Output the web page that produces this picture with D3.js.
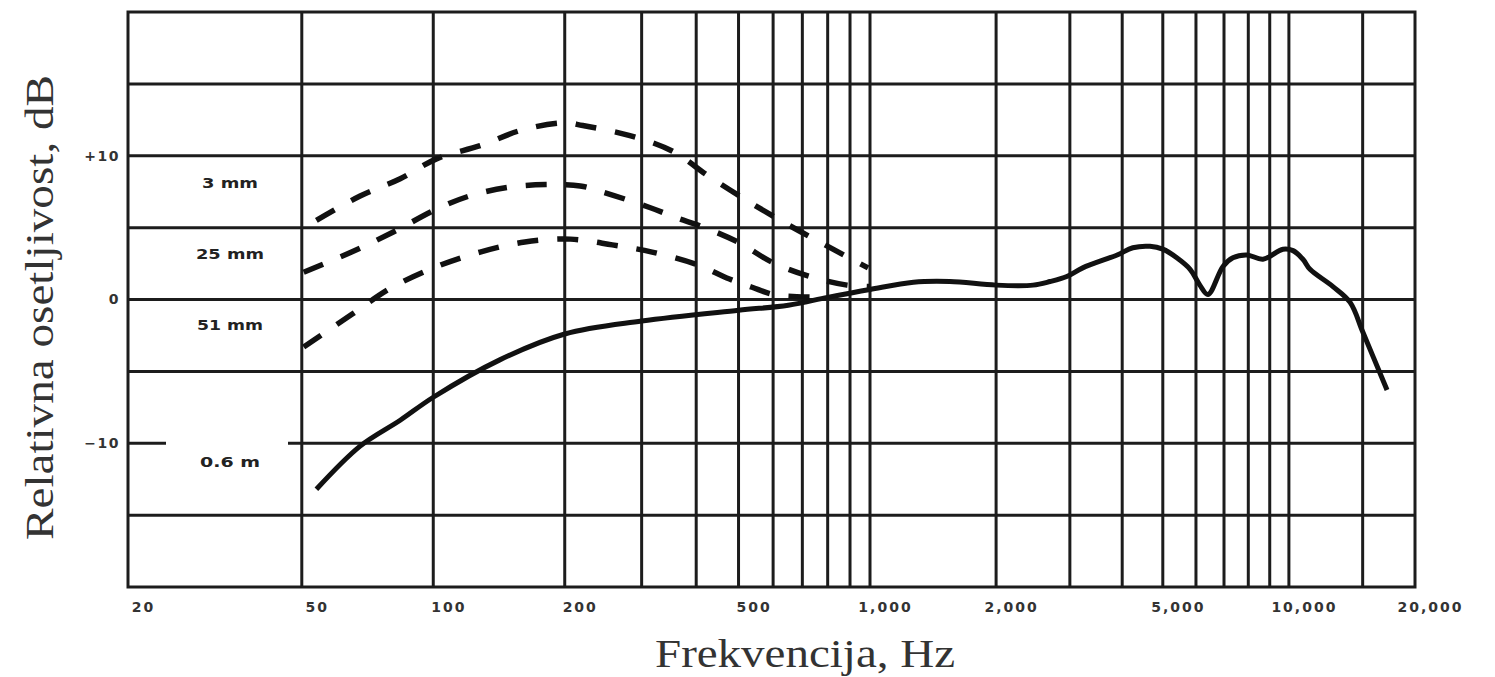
<!DOCTYPE html>
<html>
<head>
    <meta charset="utf-8">
    <title></title>
    <style>
        body {
            margin: 0;
            background: #fff;
        }
        .grid line, .frame {
            fill: none;
            stroke: #1c1c1c;
            stroke-width: 3px;
        }
        .curve {
            fill: none;
            stroke: #111;
            stroke-width: 5px;
            stroke-linejoin: round;
        }
        .dashed {
            stroke-width: 5.5px;
            stroke-dasharray: 21 19;
        }
        .tick-label {
            font-family: "DejaVu Sans", sans-serif;
            font-weight: bold;
            font-size: 14px;
            fill: #333;
        }
        .curve-label {
            font-family: "DejaVu Sans", sans-serif;
            font-weight: bold;
            font-size: 14px;
            fill: #222;
        }
        .title {
            font-family: "Liberation Serif", "Times New Roman", serif;
            font-size: 40px;
            fill: #333;
        }
    </style>
</head>
<body>
<script src="https://d3js.org/d3.v7.min.js"></script>
<script>
    var width = 1495;
    var height = 677;

    // axes
    var freqTicks = [20, 50, 100, 200, 500, 1000, 2000, 5000, 10000, 20000];
    var freqGrid = [50, 100, 200, 300, 400, 500, 600, 700, 800, 900, 1000,
        2000, 3000, 4000, 5000, 6000, 7000, 8000, 9000, 10000, 15000];
    var dbTicks = [10, 0, -10];
    var dbGrid = [-15, -10, -5, 0, 5, 10, 15];
    var curveNames = ["3 mm", "25 mm", "51 mm", "0.6 m"];

    // curves (Hz, dB)
    var freq3mm = [54, 68, 84, 102, 128, 160, 200, 220, 282, 354, 426, 509, 632, 789, 990];
    var db3mm = [5.5, 7.2, 8.4, 9.8, 10.7, 11.8, 12.3, 12.1, 11.4, 10.3, 8.6, 7.1, 5.4, 3.8, 2.2];

    var freq25mm = [50.5, 65, 81, 102, 121, 148, 181, 217, 243, 313, 367, 402, 498, 596, 728, 886, 1000];
    var db25mm = [1.9, 3.3, 4.7, 6.3, 7.2, 7.8, 8.0, 7.9, 7.5, 6.4, 5.6, 5.2, 4.0, 2.6, 1.6, 1.0, 0.9];

    var freq51mm = [50.5, 65, 80, 102, 128, 162, 206, 257, 317, 404, 470, 537, 600, 680, 800];
    var db51mm = [-3.3, -1.05, 0.8, 2.3, 3.3, 4.0, 4.2, 3.8, 3.3, 2.4, 1.5, 0.85, 0.35, 0.2, 0.15];

    var freq06m = [54, 68, 84, 100, 142, 200, 300, 500, 650, 800, 1000, 1270, 1550,
        2000, 2450, 2690, 2950, 3220, 3890, 4240, 4660, 5000, 5400, 5810, 6130, 6410,
        6960, 7350, 7940, 8670, 9680, 10230, 10800, 11230, 12740, 14000, 15030, 17150];
    var db06m = [-13.2, -10.2, -8.4, -6.8, -4.2, -2.4, -1.5, -0.75, -0.4, 0.15, 0.7, 1.2, 1.25,
        1.0, 1.0, 1.25, 1.6, 2.2, 3.1, 3.6, 3.7, 3.5, 2.9, 2.1, 1.0, 0.35,
        2.3, 2.9, 3.1, 2.8, 3.5, 3.4, 2.8, 2.1, 0.9, -0.2, -2.3, -6.3];

    // the scanned grid is a little squeezed above 1 kHz, hence the piecewise log scale
    var x = d3.scaleLog().domain([20, 1000, 20000]).range([128, 870, 1415]);
    var y = d3.scaleLinear().domain([-20, 20]).range([587, 12]);

    var svg = d3.select("body").append("svg")
            .attr("width", width)
            .attr("height", height);

    // grid
    svg.append("g").attr("class", "grid")
        .selectAll("line").data(dbGrid).enter().append("line")
        .attr("x1", x(20)).attr("x2", x(20000))
        .attr("y1", function(d) {return y(d);})
        .attr("y2", function(d) {return y(d);});

    svg.append("g").attr("class", "grid")
        .selectAll("line").data(freqGrid).enter().append("line")
        .attr("x1", function(d) {return x(d);})
        .attr("x2", function(d) {return x(d);})
        .attr("y1", y(20)).attr("y2", y(-20));

    svg.append("rect").attr("class", "frame")
        .attr("x", x(20)).attr("y", y(20))
        .attr("width", x(20000) - x(20))
        .attr("height", y(-20) - y(20));

    // the -10 line is broken beside the "0.6 m" label in the original
    svg.append("rect")
        .attr("x", 166).attr("y", y(-10) - 4)
        .attr("width", 122).attr("height", 8)
        .attr("fill", "#fff");

    // tick labels
    var xAxis = d3.axisBottom(x)
        .tickValues(freqTicks)
        .tickFormat(d3.format(","))
        .tickSize(0);
    var gx = svg.append("g").attr("transform", "translate(0," + (y(-20) + 12) + ")").call(xAxis);
    gx.select(".domain").remove();
    gx.selectAll("text")
        .attr("class", "tick-label")
        .attr("dx", 15)
        .attr("font-size", null).attr("font-family", null)
        .attr("letter-spacing", 2);

    var yAxis = d3.axisLeft(y)
        .tickValues(dbTicks)
        .tickFormat(function(d) {return d > 0 ? "+" + d : d === 0 ? "0" : "\u2212" + (-d);})
        .tickSize(0)
        .tickPadding(8);
    var gy = svg.append("g").attr("transform", "translate(" + x(20) + ",0)").call(yAxis);
    gy.select(".domain").remove();
    gy.selectAll("text")
        .attr("class", "tick-label")
        .attr("font-size", null).attr("font-family", null)
        .attr("letter-spacing", 1.5);

    // curves
    var line = d3.line()
        .x(function(d) {return x(d[0]);})
        .y(function(d) {return y(d[1]);})
        .curve(d3.curveCatmullRom.alpha(0.5));

    var series = [
        {pts: d3.zip(freq3mm, db3mm), dashed: true},
        {pts: d3.zip(freq25mm, db25mm), dashed: true},
        {pts: d3.zip(freq51mm, db51mm), dashed: true},
        {pts: d3.zip(freq06m, db06m), dashed: false}
    ];

    svg.selectAll("path.curve").data(series).enter().append("path")
        .attr("class", function(d) {return d.dashed ? "curve dashed" : "curve";})
        .attr("d", function(d) {return line(d.pts);});

    // curve labels in the left column
    var labelDb = [8.1, 3.2, -1.8, -11.3];
    var labelWidth = [56, 68, 66, 60];
    svg.selectAll("text.curve-label").data(curveNames).enter().append("text")
        .attr("class", "curve-label")
        .attr("x", function(d, i) {return 230 - labelWidth[i] / 2;})
        .attr("y", function(d, i) {return y(labelDb[i]) + 5;})
        .attr("textLength", function(d, i) {return labelWidth[i];})
        .attr("lengthAdjust", "spacingAndGlyphs")
        .text(function(d) {return d;});

    // axis titles
    svg.append("text").attr("class", "title")
        .attr("x", 655).attr("y", 667)
        .attr("textLength", 300)
        .attr("lengthAdjust", "spacingAndGlyphs")
        .text("Frekvencija, Hz");

    svg.append("text").attr("class", "title")
        .attr("transform", "translate(53," + 540 + ")rotate(-90)")
        .attr("textLength", 465)
        .attr("lengthAdjust", "spacingAndGlyphs")
        .text("Relativna osetljivost, dB");
</script>
</body>
</html>
